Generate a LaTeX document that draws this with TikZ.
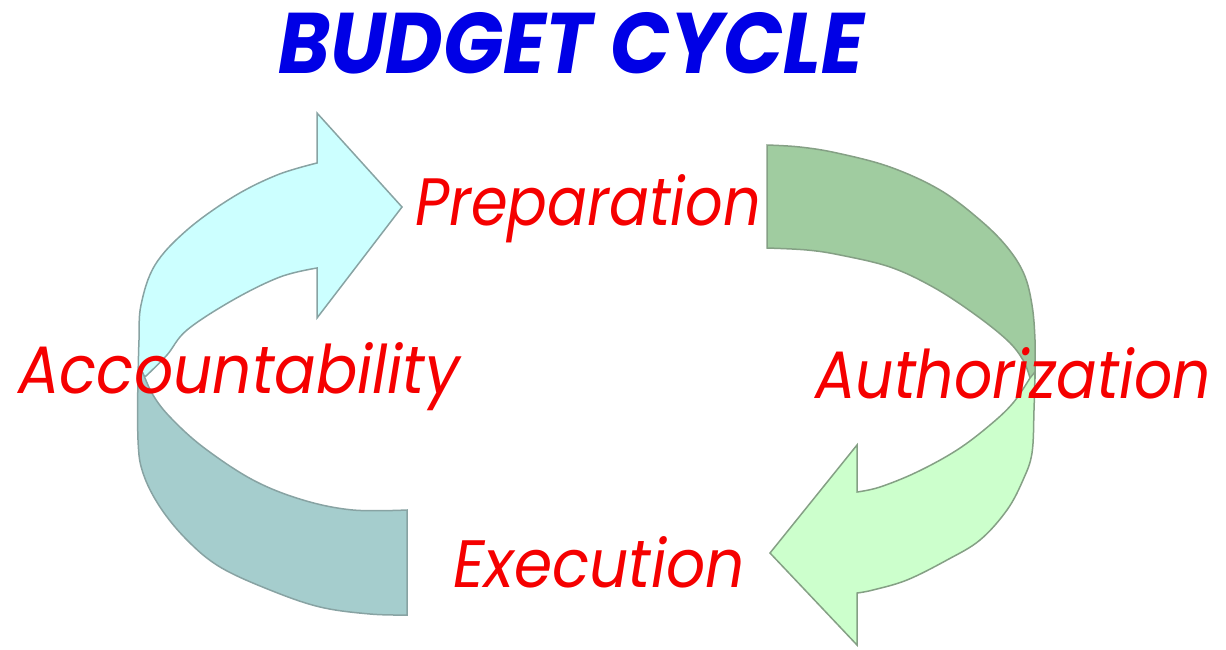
\documentclass[tikz,border=0pt]{standalone}
\usepackage{fontspec}
\newfontfamily\labelfont{Poppins}
\definecolor{leftlight}{HTML}{CCFFFF}
\definecolor{leftdark}{HTML}{A5CDCD}
\definecolor{leftline}{HTML}{88A3A3}
\definecolor{rightlight}{HTML}{CCFFCC}
\definecolor{rightdark}{HTML}{A0CCA0}
\definecolor{rightline}{HTML}{85A085}
\definecolor{titleblue}{HTML}{0000E6}
\definecolor{labelred}{HTML}{F50000}
\tikzset{
  leftband/.style={draw=leftline, line width=1.5pt, line join=miter},
  rightband/.style={draw=rightline, line width=1.5pt, line join=miter},
  lbl/.style={anchor=base west, inner sep=0pt, text=labelred, font=\labelfont\itshape\fontsize{67}{67}\selectfont},
  ttl/.style={anchor=base west, inner sep=0pt, text=titleblue, font=\labelfont\bfseries\itshape\fontsize{86}{86}\selectfont}
}
\begin{document}
\begin{tikzpicture}[x=1pt,y=-1pt]
\useasboundingbox (0,0) rectangle (1226,649);
% left arrow: light top face
\path[leftband, fill=leftlight]
  plot[smooth, tension=0.6] coordinates {(138,378) (139,340) (141,305) (155,265) (187,230) (233,197) (277,175) (317,163)}
  -- (317,113) -- (402,207) -- (317,318) -- (317,268)
  -- plot[smooth, tension=0.6] coordinates {(317,268) (280,277) (233,300) (187,330) (167,355) (146,376)}
  -- cycle;
% left arrow: dark lower face
\path[leftband, fill=leftdark]
  plot[smooth, tension=0.6] coordinates {(138,372) (138,440) (143,473) (160,507) (187,540) (220,567) (270,590) (320,607) (370,614) (407,615)}
  -- (407,510)
  -- plot[smooth, tension=0.6] coordinates {(407,510) (353,510) (303,500) (253,480) (203,447) (170,417) (153,395) (143,373)}
  -- cycle;
% right arrow: dark upper face
\path[rightband, fill=rightdark]
  plot[smooth, tension=0.6] coordinates {(767,145) (800,147) (837,153) (890,167) (940,190) (980,220) (1007,247) (1024,274) (1032,305) (1035,340) (1035,378)}
  -- plot[smooth, tension=0.6] coordinates {(1030,378) (1023,360) (1007,340) (973,313) (933,287) (890,267) (840,255) (807,250) (767,248)}
  -- cycle;
% right arrow: light lower face
\path[rightband, fill=rightlight]
  plot[smooth, tension=0.6] coordinates {(1035,372) (1034,410) (1032,453) (1023,480) (1007,510) (980,540) (947,560) (907,580) (873,590) (857,593)}
  -- (857,645) -- (770,553) -- (857,445) -- (857,492)
  -- plot[smooth, tension=0.6] coordinates {(857,492) (880,487) (917,472) (957,450) (990,425) (1013,403) (1030,378)}
  -- cycle;
% texts
\node[ttl] (title) at (278,73) {\scalebox{0.917}[1]{BUDGET CYCLE}};
\node[lbl] (prep) at (415,225) {\scalebox{0.88}[1]{Preparation}};
\node[lbl] (acc) at (18,393) {\scalebox{0.917}[1]{Accountability}};
\node[lbl] (auth) at (815,398) {\scalebox{0.895}[1]{Authorization}};
\node[lbl] (exec) at (453,587) {\scalebox{0.917}[1]{Execution}};
\end{tikzpicture}
\end{document}
